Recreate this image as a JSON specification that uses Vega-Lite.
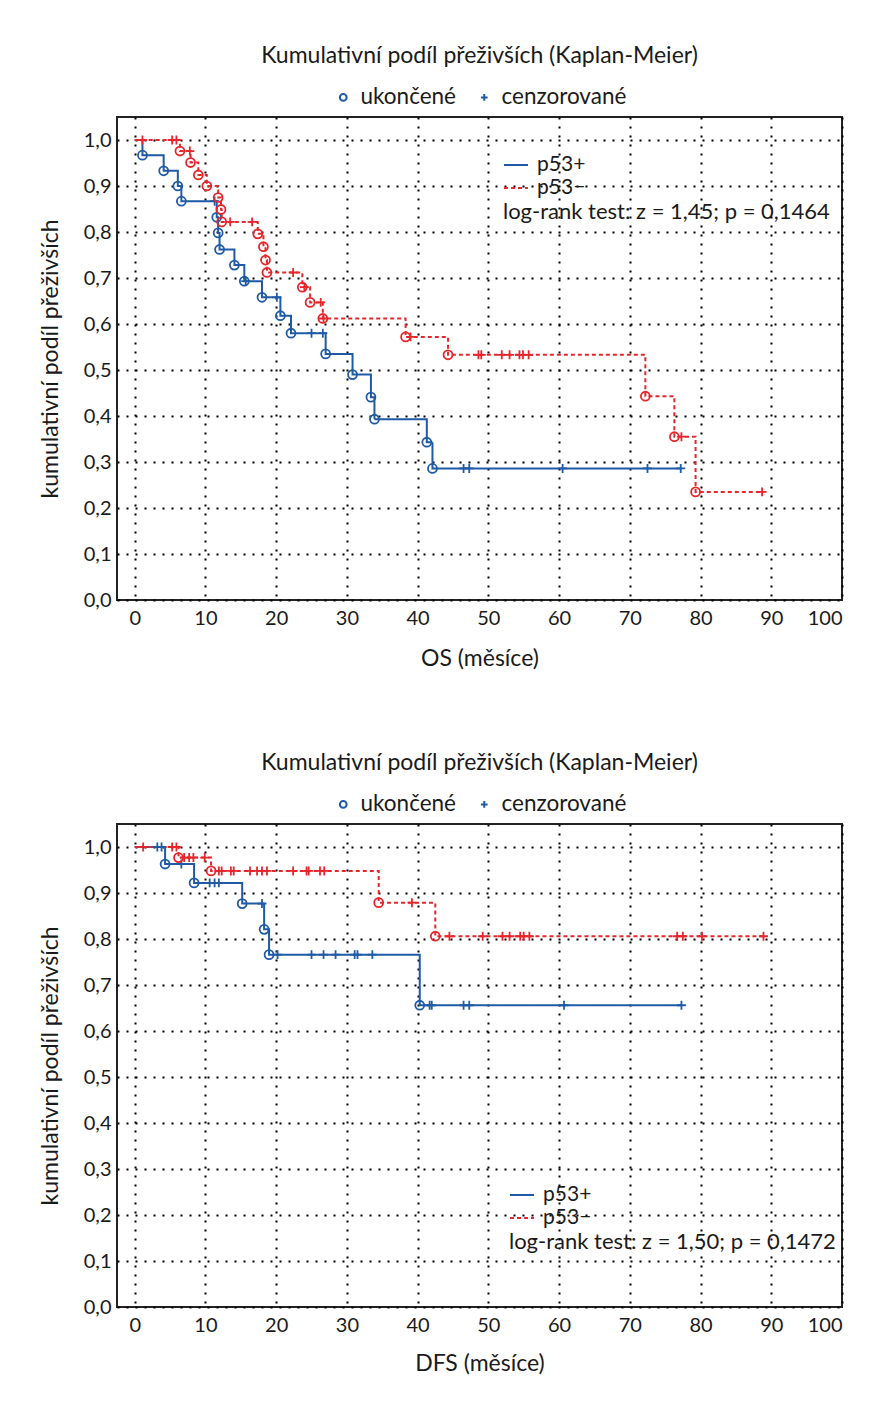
{
"$schema": "https://vega.github.io/schema/vega-lite/v6.json",
"background": "white",
"padding": {"left": 38, "top": 44, "right": 10, "bottom": 5},
"spacing": 80,
"config": {
  "font": "Lato",
  "view": {"stroke": "#222222", "strokeWidth": 2},
  "axis": {"labelFont": "Lato", "labelFontSize": 20, "labelColor": "#1a1a1a", "titleFont": "Lato", "titleFontSize": 23, "titleFontWeight": "normal", "titleColor": "#1a1a1a", "grid": true, "gridColor": "#000000", "gridDash": [2, 7], "gridWidth": 2, "ticks": false, "domain": false},
  "legend": {"labelFont": "Lato", "labelColor": "#1a1a1a", "titleFont": "Lato", "titleColor": "#1a1a1a", "padding": 0},
  "title": {"font": "Lato", "fontSize": 23, "fontWeight": "normal", "color": "#1a1a1a"}
},
"resolve": {"scale": {"x": "independent", "y": "independent", "color": "independent", "strokeDash": "independent", "shape": "independent", "stroke": "independent"}, "legend": {"color": "independent", "strokeDash": "independent", "shape": "independent"}},
"datasets": {
"os": [
{"g":"p53+","k":"start","t":0,"s":1},
{"g":"p53+","k":"ukončené","t":1.1,"s":0.967},
{"g":"p53+","k":"ukončené","t":4.1,"s":0.933},
{"g":"p53+","k":"ukončené","t":6.1,"s":0.900},
{"g":"p53+","k":"ukončené","t":6.6,"s":0.867},
{"g":"p53+","k":"cenzorované","t":11.3,"s":0.867},
{"g":"p53+","k":"ukončené","t":11.6,"s":0.832},
{"g":"p53+","k":"ukončené","t":11.8,"s":0.798},
{"g":"p53+","k":"ukončené","t":12.0,"s":0.762},
{"g":"p53+","k":"ukončené","t":14.1,"s":0.728},
{"g":"p53+","k":"ukončené","t":15.5,"s":0.693},
{"g":"p53+","k":"cenzorované","t":15.7,"s":0.693},
{"g":"p53+","k":"ukončené","t":18.0,"s":0.658},
{"g":"p53+","k":"cenzorované","t":20.1,"s":0.658},
{"g":"p53+","k":"ukončené","t":20.6,"s":0.618},
{"g":"p53+","k":"ukončené","t":22.1,"s":0.580},
{"g":"p53+","k":"cenzorované","t":25.0,"s":0.580},
{"g":"p53+","k":"cenzorované","t":26.6,"s":0.580},
{"g":"p53+","k":"ukončené","t":27.0,"s":0.535},
{"g":"p53+","k":"ukončené","t":30.8,"s":0.490},
{"g":"p53+","k":"ukončené","t":33.4,"s":0.441},
{"g":"p53+","k":"ukončené","t":33.9,"s":0.393},
{"g":"p53+","k":"ukončené","t":41.3,"s":0.343},
{"g":"p53+","k":"ukončené","t":42.1,"s":0.286},
{"g":"p53+","k":"cenzorované","t":46.5,"s":0.286},
{"g":"p53+","k":"cenzorované","t":47.3,"s":0.286},
{"g":"p53+","k":"cenzorované","t":60.5,"s":0.286},
{"g":"p53+","k":"cenzorované","t":72.5,"s":0.286},
{"g":"p53+","k":"cenzorované","t":77.2,"s":0.286},
{"g":"p53−","k":"start","t":0,"s":1},
{"g":"p53−","k":"cenzorované","t":1.1,"s":1},
{"g":"p53−","k":"cenzorované","t":5.3,"s":1},
{"g":"p53−","k":"cenzorované","t":5.9,"s":1},
{"g":"p53−","k":"ukončené","t":6.4,"s":0.976},
{"g":"p53−","k":"cenzorované","t":7.8,"s":0.976},
{"g":"p53−","k":"ukončené","t":7.9,"s":0.951},
{"g":"p53−","k":"ukončené","t":9.0,"s":0.924},
{"g":"p53−","k":"ukončené","t":10.2,"s":0.900},
{"g":"p53−","k":"ukončené","t":11.8,"s":0.875},
{"g":"p53−","k":"ukončené","t":12.2,"s":0.849},
{"g":"p53−","k":"ukončené","t":12.3,"s":0.822},
{"g":"p53−","k":"cenzorované","t":13.5,"s":0.822},
{"g":"p53−","k":"cenzorované","t":16.6,"s":0.822},
{"g":"p53−","k":"ukončené","t":17.4,"s":0.796},
{"g":"p53−","k":"ukončené","t":18.2,"s":0.768},
{"g":"p53−","k":"ukončené","t":18.5,"s":0.739},
{"g":"p53−","k":"ukončené","t":18.7,"s":0.712},
{"g":"p53−","k":"cenzorované","t":22.4,"s":0.712},
{"g":"p53−","k":"ukončené","t":23.7,"s":0.680},
{"g":"p53−","k":"cenzorované","t":24.0,"s":0.680},
{"g":"p53−","k":"ukončené","t":24.8,"s":0.647},
{"g":"p53−","k":"cenzorované","t":26.3,"s":0.647},
{"g":"p53−","k":"ukončené","t":26.6,"s":0.612},
{"g":"p53−","k":"cenzorované","t":26.7,"s":0.612},
{"g":"p53−","k":"ukončené","t":38.3,"s":0.572},
{"g":"p53−","k":"cenzorované","t":39.0,"s":0.572},
{"g":"p53−","k":"ukončené","t":44.3,"s":0.533},
{"g":"p53−","k":"cenzorované","t":48.6,"s":0.533},
{"g":"p53−","k":"cenzorované","t":49.0,"s":0.533},
{"g":"p53−","k":"cenzorované","t":51.9,"s":0.533},
{"g":"p53−","k":"cenzorované","t":53.0,"s":0.533},
{"g":"p53−","k":"cenzorované","t":54.4,"s":0.533},
{"g":"p53−","k":"cenzorované","t":54.9,"s":0.533},
{"g":"p53−","k":"cenzorované","t":55.7,"s":0.533},
{"g":"p53−","k":"ukončené","t":72.2,"s":0.443},
{"g":"p53−","k":"ukončené","t":76.3,"s":0.355},
{"g":"p53−","k":"cenzorované","t":77.3,"s":0.355},
{"g":"p53−","k":"ukončené","t":79.3,"s":0.235},
{"g":"p53−","k":"cenzorované","t":88.7,"s":0.235}
],
"dfs": [
{"g":"p53+","k":"start","t":0,"s":1},
{"g":"p53+","k":"cenzorované","t":3.2,"s":1},
{"g":"p53+","k":"cenzorované","t":3.8,"s":1},
{"g":"p53+","k":"ukončené","t":4.3,"s":0.963},
{"g":"p53+","k":"cenzorované","t":6.6,"s":0.963},
{"g":"p53+","k":"ukončené","t":8.4,"s":0.922},
{"g":"p53+","k":"cenzorované","t":10.6,"s":0.922},
{"g":"p53+","k":"cenzorované","t":11.3,"s":0.922},
{"g":"p53+","k":"cenzorované","t":11.9,"s":0.922},
{"g":"p53+","k":"ukončené","t":15.2,"s":0.877},
{"g":"p53+","k":"cenzorované","t":18.0,"s":0.877},
{"g":"p53+","k":"ukončené","t":18.3,"s":0.821},
{"g":"p53+","k":"ukončené","t":19.0,"s":0.766},
{"g":"p53+","k":"cenzorované","t":20.2,"s":0.766},
{"g":"p53+","k":"cenzorované","t":25.0,"s":0.766},
{"g":"p53+","k":"cenzorované","t":26.7,"s":0.766},
{"g":"p53+","k":"cenzorované","t":28.4,"s":0.766},
{"g":"p53+","k":"cenzorované","t":31.1,"s":0.766},
{"g":"p53+","k":"cenzorované","t":31.5,"s":0.766},
{"g":"p53+","k":"cenzorované","t":33.6,"s":0.766},
{"g":"p53+","k":"ukončené","t":40.3,"s":0.656},
{"g":"p53+","k":"cenzorované","t":41.7,"s":0.656},
{"g":"p53+","k":"cenzorované","t":42.0,"s":0.656},
{"g":"p53+","k":"cenzorované","t":46.5,"s":0.656},
{"g":"p53+","k":"cenzorované","t":47.3,"s":0.656},
{"g":"p53+","k":"cenzorované","t":60.7,"s":0.656},
{"g":"p53+","k":"cenzorované","t":77.3,"s":0.656},
{"g":"p53−","k":"start","t":0,"s":1},
{"g":"p53−","k":"cenzorované","t":1.2,"s":1},
{"g":"p53−","k":"cenzorované","t":5.3,"s":1},
{"g":"p53−","k":"cenzorované","t":5.9,"s":1},
{"g":"p53−","k":"ukončené","t":6.2,"s":0.977},
{"g":"p53−","k":"cenzorované","t":7.0,"s":0.977},
{"g":"p53−","k":"cenzorované","t":7.7,"s":0.977},
{"g":"p53−","k":"cenzorované","t":8.3,"s":0.977},
{"g":"p53−","k":"cenzorované","t":9.9,"s":0.977},
{"g":"p53−","k":"ukončené","t":10.8,"s":0.948},
{"g":"p53−","k":"cenzorované","t":11.9,"s":0.948},
{"g":"p53−","k":"cenzorované","t":12.3,"s":0.948},
{"g":"p53−","k":"cenzorované","t":13.6,"s":0.948},
{"g":"p53−","k":"cenzorované","t":14.0,"s":0.948},
{"g":"p53−","k":"cenzorované","t":16.3,"s":0.948},
{"g":"p53−","k":"cenzorované","t":17.3,"s":0.948},
{"g":"p53−","k":"cenzorované","t":18.0,"s":0.948},
{"g":"p53−","k":"cenzorované","t":18.7,"s":0.948},
{"g":"p53−","k":"cenzorované","t":22.4,"s":0.948},
{"g":"p53−","k":"cenzorované","t":24.3,"s":0.948},
{"g":"p53−","k":"cenzorované","t":24.6,"s":0.948},
{"g":"p53−","k":"cenzorované","t":26.2,"s":0.948},
{"g":"p53−","k":"cenzorované","t":26.8,"s":0.948},
{"g":"p53−","k":"ukončené","t":34.5,"s":0.879},
{"g":"p53−","k":"cenzorované","t":39.2,"s":0.879},
{"g":"p53−","k":"ukončené","t":42.5,"s":0.806},
{"g":"p53−","k":"cenzorované","t":44.5,"s":0.806},
{"g":"p53−","k":"cenzorované","t":49.2,"s":0.806},
{"g":"p53−","k":"cenzorované","t":52.0,"s":0.806},
{"g":"p53−","k":"cenzorované","t":53.0,"s":0.806},
{"g":"p53−","k":"cenzorované","t":54.5,"s":0.806},
{"g":"p53−","k":"cenzorované","t":55.0,"s":0.806},
{"g":"p53−","k":"cenzorované","t":55.8,"s":0.806},
{"g":"p53−","k":"cenzorované","t":76.7,"s":0.806},
{"g":"p53−","k":"cenzorované","t":77.5,"s":0.806},
{"g":"p53−","k":"cenzorované","t":80.2,"s":0.806},
{"g":"p53−","k":"cenzorované","t":88.9,"s":0.806}
]
},
"vconcat": [
{
  "width": 725, "height": 483,
  "title": {"text": "Kumulativní podíl přeživších (Kaplan-Meier)", "anchor": "middle", "frame": "group", "offset": 18},
  "data": {"name": "os"},
  "encoding": {
    "x": {"field": "t", "type": "quantitative", "scale": {"domain": [-2.5, 100], "nice": false, "zero": false}, "axis": {"values": [0,10,20,30,40,50,60,70,80,90,100], "labelPadding": 8, "titlePadding": 19, "title": "OS (měsíce)"}},
    "y": {"field": "s", "type": "quantitative", "scale": {"domain": [0, 1.05], "nice": false}, "axis": {"values": [0,0.1,0.2,0.3,0.4,0.5,0.6,0.7,0.8,0.9,1.0], "labelExpr": "replace(format(datum.value, '.1f'), '.', ',')", "labelPadding": 6, "titlePadding": 21, "title": "kumulativní podíl přeživších"}}
  },
  "layer": [
    {"mark": {"type": "line", "interpolate": "step-after", "strokeWidth": 2},
     "encoding": {
       "color": {"field": "g", "type": "nominal", "scale": {"domain": ["p53+", "p53−"], "range": ["#1f5aa6", "#e6262b"]},
         "legend": {"orient": "none", "legendX": 386, "legendY": 35, "title": "log-rank test: z = 1,45; p = 0,1464", "titleOrient": "bottom", "titleFontSize": 22, "titleFontWeight": "normal", "titlePadding": 4, "titleLimit": 600, "symbolType": "stroke", "symbolSize": 576, "symbolStrokeWidth": 2, "labelFontSize": 21, "labelOffset": 8, "rowPadding": -2}},
       "strokeDash": {"field": "g", "type": "nominal", "scale": {"domain": ["p53+", "p53−"], "range": [[1, 0], [4, 3]]},
         "legend": {"orient": "none", "legendX": 386, "legendY": 35, "title": "log-rank test: z = 1,45; p = 0,1464", "titleOrient": "bottom", "titleFontSize": 22, "titleFontWeight": "normal", "titlePadding": 4, "titleLimit": 600, "symbolType": "stroke", "symbolSize": 576, "symbolStrokeWidth": 2, "labelFontSize": 21, "labelOffset": 8, "rowPadding": -2}}
     }},
    {"transform": [{"filter": "datum.k != 'start'"}],
     "mark": {"type": "point", "filled": false, "strokeWidth": 1.8, "size": 80, "opacity": 1},
     "encoding": {
       "stroke": {"field": "g", "type": "nominal", "scale": {"domain": ["p53+", "p53−"], "range": ["#1f5aa6", "#e6262b"]}, "legend": null},
       "shape": {"field": "k", "type": "nominal", "scale": {"domain": ["ukončené", "cenzorované"], "range": ["circle", "M0,-1V1M-1,0H1"]},
         "legend": {"orient": "none", "legendX": 215, "legendY": -31, "title": null, "direction": "horizontal", "columns": 2, "columnPadding": 16, "labelFontSize": 22.5, "labelOffset": 6, "symbolSize": 45, "symbolStrokeColor": "#1f5aa6", "symbolStrokeWidth": 2, "symbolFillColor": "transparent"}}
     }}
  ]
},
{
  "width": 725, "height": 483,
  "title": {"text": "Kumulativní podíl přeživších (Kaplan-Meier)", "anchor": "middle", "frame": "group", "offset": 18},
  "data": {"name": "dfs"},
  "encoding": {
    "x": {"field": "t", "type": "quantitative", "scale": {"domain": [-2.5, 100], "nice": false, "zero": false}, "axis": {"values": [0,10,20,30,40,50,60,70,80,90,100], "labelPadding": 8, "titlePadding": 17, "title": "DFS (měsíce)"}},
    "y": {"field": "s", "type": "quantitative", "scale": {"domain": [0, 1.05], "nice": false}, "axis": {"values": [0,0.1,0.2,0.3,0.4,0.5,0.6,0.7,0.8,0.9,1.0], "labelExpr": "replace(format(datum.value, '.1f'), '.', ',')", "labelPadding": 6, "titlePadding": 21, "title": "kumulativní podíl přeživších"}}
  },
  "layer": [
    {"mark": {"type": "line", "interpolate": "step-after", "strokeWidth": 2},
     "encoding": {
       "color": {"field": "g", "type": "nominal", "scale": {"domain": ["p53+", "p53−"], "range": ["#1f5aa6", "#e6262b"]},
         "legend": {"orient": "none", "legendX": 392, "legendY": 358, "title": "log-rank test: z = 1,50; p = 0,1472", "titleOrient": "bottom", "titleFontSize": 22, "titleFontWeight": "normal", "titlePadding": 4, "titleLimit": 600, "symbolType": "stroke", "symbolSize": 576, "symbolStrokeWidth": 2, "labelFontSize": 21, "labelOffset": 8, "rowPadding": -2}},
       "strokeDash": {"field": "g", "type": "nominal", "scale": {"domain": ["p53+", "p53−"], "range": [[1, 0], [4, 3]]},
         "legend": {"orient": "none", "legendX": 392, "legendY": 358, "title": "log-rank test: z = 1,50; p = 0,1472", "titleOrient": "bottom", "titleFontSize": 22, "titleFontWeight": "normal", "titlePadding": 4, "titleLimit": 600, "symbolType": "stroke", "symbolSize": 576, "symbolStrokeWidth": 2, "labelFontSize": 21, "labelOffset": 8, "rowPadding": -2}}
     }},
    {"transform": [{"filter": "datum.k != 'start'"}],
     "mark": {"type": "point", "filled": false, "strokeWidth": 1.8, "size": 80, "opacity": 1},
     "encoding": {
       "stroke": {"field": "g", "type": "nominal", "scale": {"domain": ["p53+", "p53−"], "range": ["#1f5aa6", "#e6262b"]}, "legend": null},
       "shape": {"field": "k", "type": "nominal", "scale": {"domain": ["ukončené", "cenzorované"], "range": ["circle", "M0,-1V1M-1,0H1"]},
         "legend": {"orient": "none", "legendX": 215, "legendY": -31, "title": null, "direction": "horizontal", "columns": 2, "columnPadding": 16, "labelFontSize": 22.5, "labelOffset": 6, "symbolSize": 45, "symbolStrokeColor": "#1f5aa6", "symbolStrokeWidth": 2, "symbolFillColor": "transparent"}}
     }}
  ]
}
]
}
